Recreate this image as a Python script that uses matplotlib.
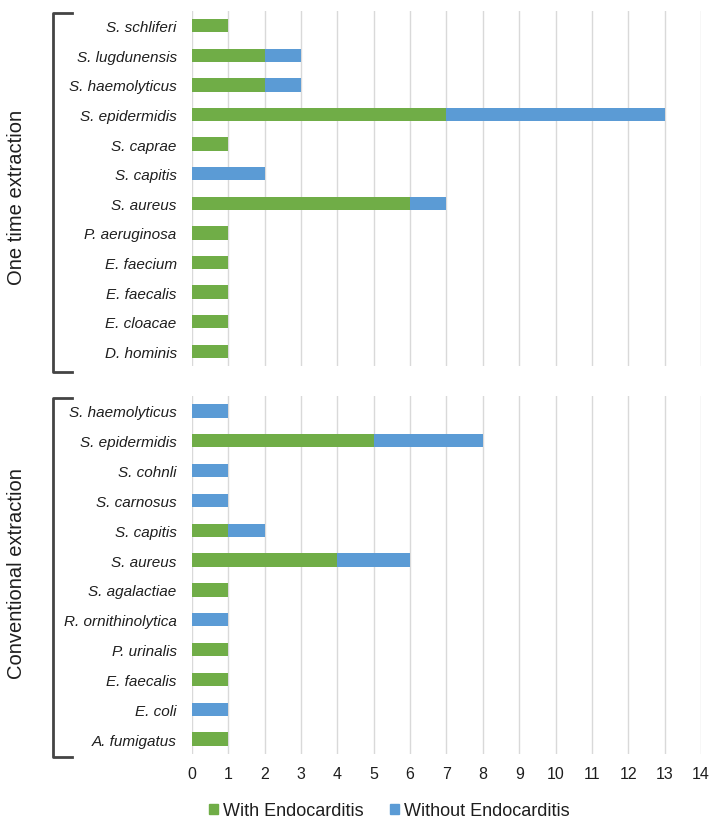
import matplotlib
matplotlib.use("Agg")
import matplotlib.pyplot as plt
from matplotlib.lines import Line2D
from matplotlib.patches import Patch

plt.rcParams['font.family'] = ['Liberation Sans', 'DejaVu Sans']

top_species = ["S. schliferi", "S. lugdunensis", "S. haemolyticus", "S. epidermidis",
               "S. caprae", "S. capitis", "S. aureus", "P. aeruginosa", "E. faecium",
               "E. faecalis", "E. cloacae", "D. hominis"]
top_with = [1, 2, 2, 7, 1, 0, 6, 1, 1, 1, 1, 1]
top_without = [0, 1, 1, 6, 0, 2, 1, 0, 0, 0, 0, 0]

bot_species = ["S. haemolyticus", "S. epidermidis", "S. cohnli", "S. carnosus",
               "S. capitis", "S. aureus", "S. agalactiae", "R. ornithinolytica",
               "P. urinalis", "E. faecalis", "E. coli", "A. fumigatus"]
bot_with = [0, 5, 0, 0, 1, 4, 1, 0, 1, 1, 0, 1]
bot_without = [1, 3, 1, 1, 1, 2, 0, 1, 0, 0, 1, 0]

group_labels = ["One time extraction", "Conventional extraction"]
legend_labels = ["With Endocarditis", "Without Endocarditis"]
xticks = list(range(0, 15))

GREEN = "#70ad47"
BLUE = "#5b9bd5"
TXT = "#1e1e1e"

W, H = 720, 829
fig = plt.figure(figsize=(W / 100, H / 100), dpi=100)

def fx(px):
    return px / W

def fy(py):
    return 1 - py / H

left, right = fx(192), fx(701)
ax1 = fig.add_axes([left, fy(367), right - left, fy(12) - fy(367)])
ax2 = fig.add_axes([left, fy(755), right - left, fy(397) - fy(755)])

for ax, sp, w, wo, show_x in [(ax1, top_species, top_with, top_without, False),
                              (ax2, bot_species, bot_with, bot_without, True)]:
    y = list(range(len(sp)))
    ax.barh(y, w, height=0.45, color=GREEN, zorder=3)
    ax.barh(y, wo, left=w, height=0.45, color=BLUE, zorder=3)
    ax.set_xlim(0, 14)
    ax.set_ylim(len(sp) - 0.5, -0.5)
    ax.set_yticks(y)
    ax.set_yticklabels(sp, fontstyle='italic', fontsize=11, color=TXT)
    ax.set_xticks(xticks)
    ax.grid(axis='x', color='#d9d9d9', linewidth=1, zorder=0)
    for s in ax.spines.values():
        s.set_visible(False)
    ax.tick_params(axis='both', length=0)
    ax.tick_params(axis='y', pad=11)
    if show_x:
        ax.set_xticklabels([str(t) for t in xticks], fontsize=11.5, color=TXT)
        ax.tick_params(axis='x', pad=9)
    else:
        ax.set_xticklabels([])

# brackets
bc = '#444444'
for (y0, y1) in [(14, 373), (399, 758)]:
    fig.add_artist(Line2D([fx(72), fx(53), fx(53), fx(72)],
                          [fy(y0), fy(y0), fy(y1), fy(y1)],
                          color=bc, linewidth=2, transform=fig.transFigure))

fig.text(fx(17), fy(197), group_labels[0], rotation=90, ha='center', va='center',
         fontsize=14.5, color=TXT)
fig.text(fx(17), fy(574), group_labels[1], rotation=90, ha='center', va='center',
         fontsize=14.5, color=TXT)

handles = [Patch(color=GREEN), Patch(color=BLUE)]
fig.legend(handles, legend_labels, loc='center left', bbox_to_anchor=(fx(209), fy(812)),
           ncol=2, frameon=False, fontsize=13, handlelength=0.52, handleheight=0.4,
           handletextpad=0.25, columnspacing=1.45, borderpad=0, borderaxespad=0,
           labelcolor=TXT)

fig.savefig("out.png", dpi=100)
